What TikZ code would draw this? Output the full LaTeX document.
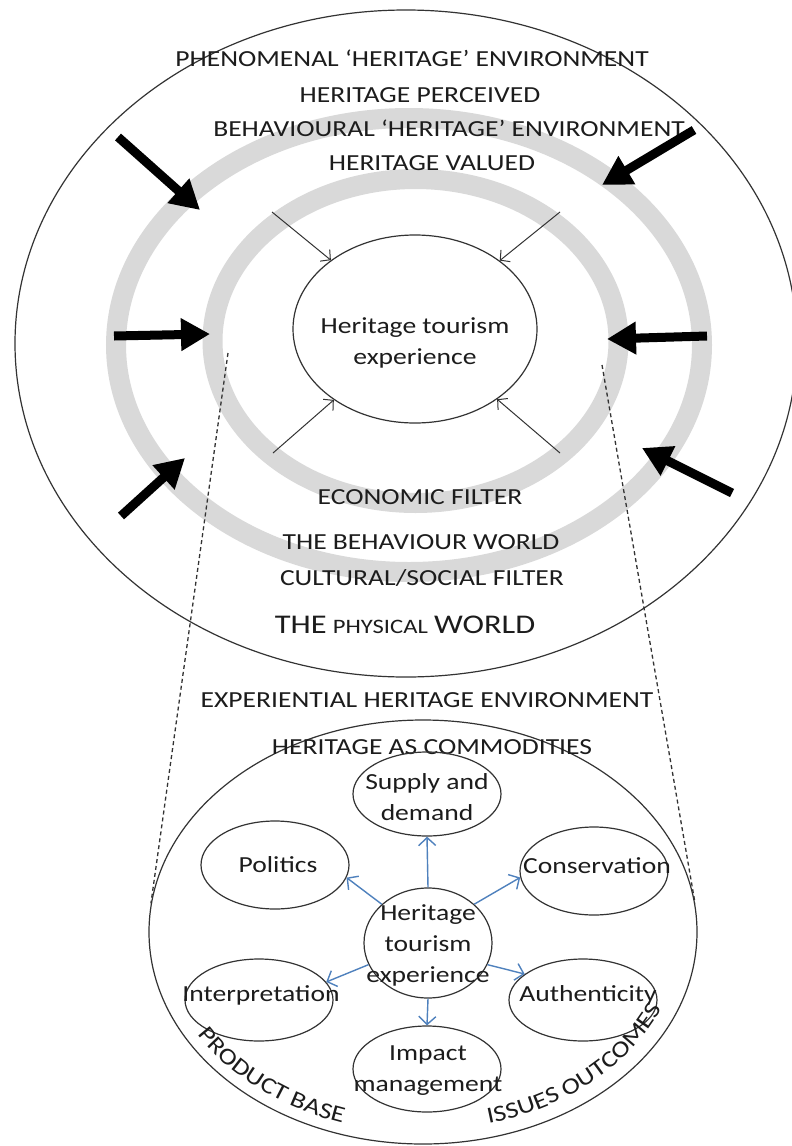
\documentclass[tikz,border=0pt]{standalone}
\usepackage{fontspec}
\setmainfont{Carlito}[FakeStretch=1.2]
\usetikzlibrary{arrows.meta,shapes.geometric,decorations.text}
\definecolor{ink}{HTML}{1C1C1C}
\definecolor{rim}{HTML}{333333}
\definecolor{band}{HTML}{D9D9D9}
\definecolor{blueline}{HTML}{4F81BD}

\begin{document}
\begin{tikzpicture}[x=1pt,y=-1pt,
  every node/.style={font=\fontsize{23}{31}\selectfont, text=ink, inner sep=0pt},
  ring/.style={draw=band, line width=20pt},
  outline/.style={draw=rim, line width=1.2pt},
  bigarrow/.style={draw=black, line width=9pt, -{Triangle[length=29pt,width=31pt]}},
  thinarrow/.style={draw=rim, line width=1pt, -{Straight Barb[length=7pt,width=15pt]}},
  bluearrow/.style={draw=blueline, line width=1.4pt, -{Straight Barb[length=8pt,width=17pt]}},
  linkline/.style={draw=rim, line width=1.3pt, dash pattern=on 4pt off 3pt},
  oval/.style={ellipse, outline, minimum width=148pt, minimum height=86pt},
  caption/.style={align=center},
  arclabel/.style={decorate, decoration={text along path, text align=center,
      text={|\fontsize{23}{23}\selectfont\color{ink}|#1}}}
]
\fill[white] (0,0) rectangle (792,1146);
\path[use as bounding box] (0,0) rectangle (792,1146);

% ---- upper figure: worlds and filters ----
\draw[ring] (409,345) ellipse [x radius=293, y radius=227];
\draw[ring] (415.5,341) ellipse [x radius=203, y radius=162];
\draw[outline] (406,343.5) ellipse [x radius=391, y radius=333.5];

\node[ellipse, outline, minimum width=244pt, minimum height=188pt] (hte) at (415,329) {};
\node[caption] (htetext) at (415,343) {Heritage tourism\\experience};

\node (phen) at (412,58) {PHENOMENAL ‘HERITAGE’ ENVIRONMENT};
\node (perc) at (420,95) {HERITAGE PERCEIVED};
\node (behav) at (449,128) {BEHAVIOURAL ‘HERITAGE’ ENVIRONMENT};
\node (valued) at (432,163) {HERITAGE VALUED};
\node (econ) at (420,497) {ECONOMIC FILTER};
\node (bworld) at (421,542) {THE BEHAVIOUR WORLD};
\node (cult) at (422,578) {CULTURAL/SOCIAL FILTER};
\node (phys) at (405,625) {{\fontsize{27}{31}\selectfont THE} {\fontsize{20.5}{31}\selectfont PHYSICAL} {\fontsize{27}{31}\selectfont WORLD}};

% thin arrows into the experience
\coordinate (t1) at (272,212);
\coordinate (t2) at (560,212);
\coordinate (t3) at (273,453);
\coordinate (t4) at (560,453);
\foreach \c in {t1,t2,t3,t4} \draw[thinarrow] (\c) -- (hte);

% heavy arrows from outside
\coordinate (a1s) at (118,137);  \coordinate (a1e) at (200,210);
\coordinate (a2s) at (114,336);  \coordinate (a2e) at (210,334);
\coordinate (a3s) at (121,516);  \coordinate (a3e) at (185,458);
\coordinate (a4s) at (694,130);  \coordinate (a4e) at (602,185);
\coordinate (a5s) at (707,336);  \coordinate (a5e) at (607,339);
\coordinate (a6s) at (732,493);  \coordinate (a6e) at (642,448);
\draw[bigarrow] (a1s) -- (a1e);
\draw[bigarrow] (a2s) -- (a2e);
\draw[bigarrow] (a3s) -- (a3e);
\draw[bigarrow] (a4s) -- (a4e);
\draw[bigarrow] (a5s) -- (a5e);
\draw[bigarrow] (a6s) -- (a6e);

% ---- lower figure: experiential environment ----
\node (exper) at (427,700) {EXPERIENTIAL HERITAGE ENVIRONMENT};
\node[ellipse, outline, minimum width=548pt, minimum height=424pt] (com) at (423,932) {};
\node (commod) at (432,747) {HERITAGE AS COMMODITIES};

\coordinate (dl) at (228,353);
\coordinate (dr) at (602,365);
\draw[linkline] (dl) -- (com.174);
\draw[linkline] (dr) -- (com.6);

\node[oval, minimum height=84pt] (sd) at (427,794) {};
\node[caption] (sdt) at (427,797) {Supply and\\demand};
\node[oval, minimum height=88pt] (pol) at (275,865) {};
\node (polt) at (278,865) {Politics};
\node[oval, minimum height=88pt] (cons) at (594,871) {};
\node (const) at (597,866) {Conservation};
\node[ellipse, outline, minimum width=128pt, minimum height=110pt] (hc) at (428,943) {};
\node[caption] (hct) at (428,945) {Heritage\\tourism\\experience};
\node[oval, minimum height=82pt] (int) at (259,1000) {};
\node (intt) at (261,995) {Interpretation};
\node[oval, minimum height=82pt] (auth) at (583,1000) {};
\node (autht) at (588,995) {Authenticity};
\node[oval, minimum height=86pt] (imp) at (427,1069) {};
\node[caption] (impt) at (428,1071) {Impact\\management};

\draw[bluearrow] (hc.north) -- (sd.south);
\draw[bluearrow] (hc.140) -- (pol.-10);
\draw[bluearrow] (hc.40) -- (cons.185);
\draw[bluearrow] (hc.200) -- (int.15);
\draw[bluearrow] (hc.-20) -- (auth.156);
\draw[bluearrow] (hc.south) -- (imp.north);

% labels running along the inside of the lower rim (upright frame)
\begin{scope}[y=1pt]
  \path[arclabel={PRODUCT BASE}] (com) ++(187:262 and 201)
    arc[start angle=187, end angle=271, x radius=262, y radius=201];
  \path[arclabel={ISSUES OUTCOMES}] (com) ++(270:259 and 198)
    arc[start angle=270, end angle=356, x radius=259, y radius=198];
\end{scope}
\end{tikzpicture}
\end{document}
